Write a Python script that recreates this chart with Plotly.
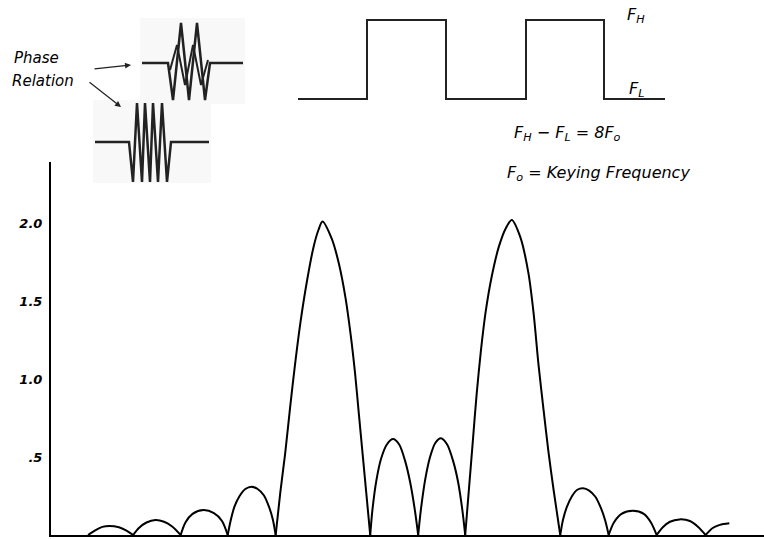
import plotly.graph_objects as go

# ---- main spectrum (x in units of keying frequency Fo, centred between the two peaks) ----
freq_offset = [
    -6.95, -6.80, -6.65, -6.50, -6.30, -6.15, -6.00,
    -5.88, -5.72, -5.53, -5.35, -5.18, -5.00,
    -4.90, -4.75, -4.52, -4.30, -4.13, -4.01,
    -3.95, -3.87, -3.76, -3.64, -3.51, -3.38, -3.25, -3.14, -3.06, -3.00,
    -2.905, -2.80, -2.695, -2.59, -2.48, -2.34, -2.20, -2.10, -2.015,
    -1.82, -1.67, -1.53, -1.42, -1.33, -1.25, -1.17, -1.09, -1.01,
    -0.96, -0.88, -0.78, -0.66, -0.53, -0.40, -0.28, -0.17, -0.07, 0.00,
    0.06, 0.15, 0.25, 0.36, 0.48, 0.61, 0.73, 0.84, 0.93, 0.99,
    1.07, 1.15, 1.23, 1.32, 1.42, 1.55, 1.70, 1.85, 1.97,
    2.15, 2.32, 2.43, 2.53, 2.64, 2.74, 2.85, 2.99,
    3.05, 3.13, 3.24, 3.35, 3.47, 3.60, 3.73, 3.85, 3.94, 4.01,
    4.12, 4.28, 4.52, 4.75, 4.90, 5.02,
    5.15, 5.30, 5.50, 5.72, 5.90, 6.05,
    6.20, 6.35, 6.55,
]
amplitude = [
    0.0, 0.03, 0.052, 0.058, 0.05, 0.03, 0.0,
    0.045, 0.08, 0.096, 0.085, 0.055, 0.0,
    0.08, 0.135, 0.16, 0.14, 0.09, 0.0,
    0.09, 0.18, 0.25, 0.295, 0.31, 0.295, 0.255, 0.18, 0.10, 0.0,
    0.267, 0.524, 0.822, 1.10, 1.36, 1.63, 1.85, 1.955, 2.01,
    1.90, 1.74, 1.52, 1.28, 1.04, 0.78, 0.52, 0.26, 0.0,
    0.17, 0.35, 0.49, 0.58, 0.615, 0.58, 0.48, 0.34, 0.16, 0.0,
    0.17, 0.36, 0.50, 0.59, 0.62, 0.58, 0.48, 0.34, 0.16, 0.0,
    0.30, 0.60, 0.90, 1.18, 1.43, 1.66, 1.85, 1.97, 2.02,
    1.91, 1.68, 1.42, 1.10, 0.80, 0.54, 0.29, 0.0,
    0.10, 0.18, 0.25, 0.29, 0.30, 0.285, 0.245, 0.17, 0.09, 0.0,
    0.08, 0.135, 0.155, 0.135, 0.08, 0.0,
    0.05, 0.085, 0.10, 0.09, 0.05, 0.0,
    0.045, 0.065, 0.075,
]
y_tick_values = [0.5, 1.0, 1.5, 2.0]
y_tick_labels = [".5", "1.0", "1.5", "2.0"]

# ---- inset sketches (page pixel coordinates of the drawing) ----
keying_x = [298, 367, 367, 446, 446, 526, 526, 604, 604, 665]
keying_y = [99, 99, 20, 20, 99, 99, 20, 20, 99, 99]

burst_top_x = [142, 168, 173, 181, 189, 197, 205, 210, 243]
burst_top_y = [63, 63, 100, 23, 100, 23, 100, 63, 63]
burst_top_inner_x = [170, 177, 185, 193, 201, 208]
burst_top_inner_y = [70, 45, 85, 45, 85, 60]

burst_bot_x = [95, 129, 133, 137, 142, 145, 150, 153, 158, 162, 167, 171, 209]
burst_bot_y = [142, 142, 182, 103, 182, 103, 182, 103, 182, 103, 182, 142, 142]

W, H = 764, 539
hand = dict(family="DejaVu Sans", color="black", style="italic")

fig = go.Figure()

# draw each lobe as its own smooth arch so the zero crossings stay sharp cusps
lobe_x, lobe_y = [], []
for xv, yv in zip(freq_offset, amplitude):
    lobe_x.append(xv)
    lobe_y.append(yv)
    if yv == 0.0 and len(lobe_x) > 1:
        fig.add_trace(go.Scatter(x=lobe_x, y=lobe_y, mode="lines",
                                 line=dict(color="black", width=2, shape="spline", smoothing=0.8),
                                 xaxis="x", yaxis="y", hoverinfo="skip", showlegend=False))
        lobe_x, lobe_y = [xv], [yv]
if len(lobe_x) > 1:
    fig.add_trace(go.Scatter(x=lobe_x, y=lobe_y, mode="lines",
                             line=dict(color="black", width=2, shape="spline", smoothing=0.8),
                             xaxis="x", yaxis="y", hoverinfo="skip", showlegend=False))

for xs, ys, w in [(keying_x, keying_y, 2), (burst_top_x, burst_top_y, 2.5),
                  (burst_top_inner_x, burst_top_inner_y, 2), (burst_bot_x, burst_bot_y, 2.5)]:
    fig.add_trace(go.Scatter(x=xs, y=ys, mode="lines", line=dict(color="#222", width=w),
                             xaxis="x2", yaxis="y2", hoverinfo="skip", showlegend=False))

annotations = [
    dict(text="Phase", x=36, y=58, size=15),
    dict(text="Relation", x=43, y=81, size=15),
    dict(text="F<sub>H</sub>", x=636, y=15, size=16),
    dict(text="F<sub>L</sub>", x=636, y=89, size=16),
    dict(text="F<sub>H</sub> − F<sub>L</sub> = 8F<sub>o</sub>", x=567, y=133, size=16),
    dict(text="F<sub>o</sub> = Keying Frequency", x=598, y=173, size=16),
]
ann = []
for a in annotations:
    ann.append(dict(text=a["text"], x=a["x"], y=a["y"], xref="x2", yref="y2",
                    showarrow=False, font=dict(size=a["size"], **hand),
                    xanchor="center", yanchor="middle"))
for (tx, ty, hx, hy) in [(93, 69, 131, 65), (88, 81, 121, 107)]:
    ann.append(dict(text="", x=hx, y=hy, ax=tx, ay=ty, xref="x2", yref="y2",
                    axref="x2", ayref="y2", showarrow=True, arrowhead=2,
                    arrowsize=1, arrowwidth=1.2, arrowcolor="#222"))

fig.update_layout(
    width=W, height=H, margin=dict(l=0, r=0, t=0, b=0),
    paper_bgcolor="white", plot_bgcolor="rgba(0,0,0,0)",
    showlegend=False,
    xaxis=dict(domain=[51 / W, 1], range=[-7.73, 7.28], showline=True, linecolor="black",
               linewidth=2, showticklabels=False, showgrid=False, zeroline=False,
               ticks="", anchor="y"),
    yaxis=dict(domain=[4 / H, (H - 162) / H], range=[0, 2.391], showline=True,
               linecolor="black", linewidth=2, showgrid=False, zeroline=False, ticks="",
               tickvals=y_tick_values, ticktext=y_tick_labels, ticklabelstandoff=4,
               tickfont=dict(size=13, family="DejaVu Sans", color="black",
                             style="italic", weight="bold"),
               anchor="x"),
    xaxis2=dict(domain=[0, 1], range=[0, W], visible=False, anchor="y2"),
    yaxis2=dict(domain=[0, 1], range=[H, 0], visible=False, anchor="x2"),
    shapes=[
        dict(type="rect", xref="x2", yref="y2", x0=140, x1=245, y0=18, y1=104,
             fillcolor="#f8f8f8", line=dict(width=0), layer="below"),
        dict(type="rect", xref="x2", yref="y2", x0=93, x1=211, y0=100, y1=183,
             fillcolor="#f8f8f8", line=dict(width=0), layer="below"),
    ],
    annotations=ann,
)

fig.write_html("out.html")
